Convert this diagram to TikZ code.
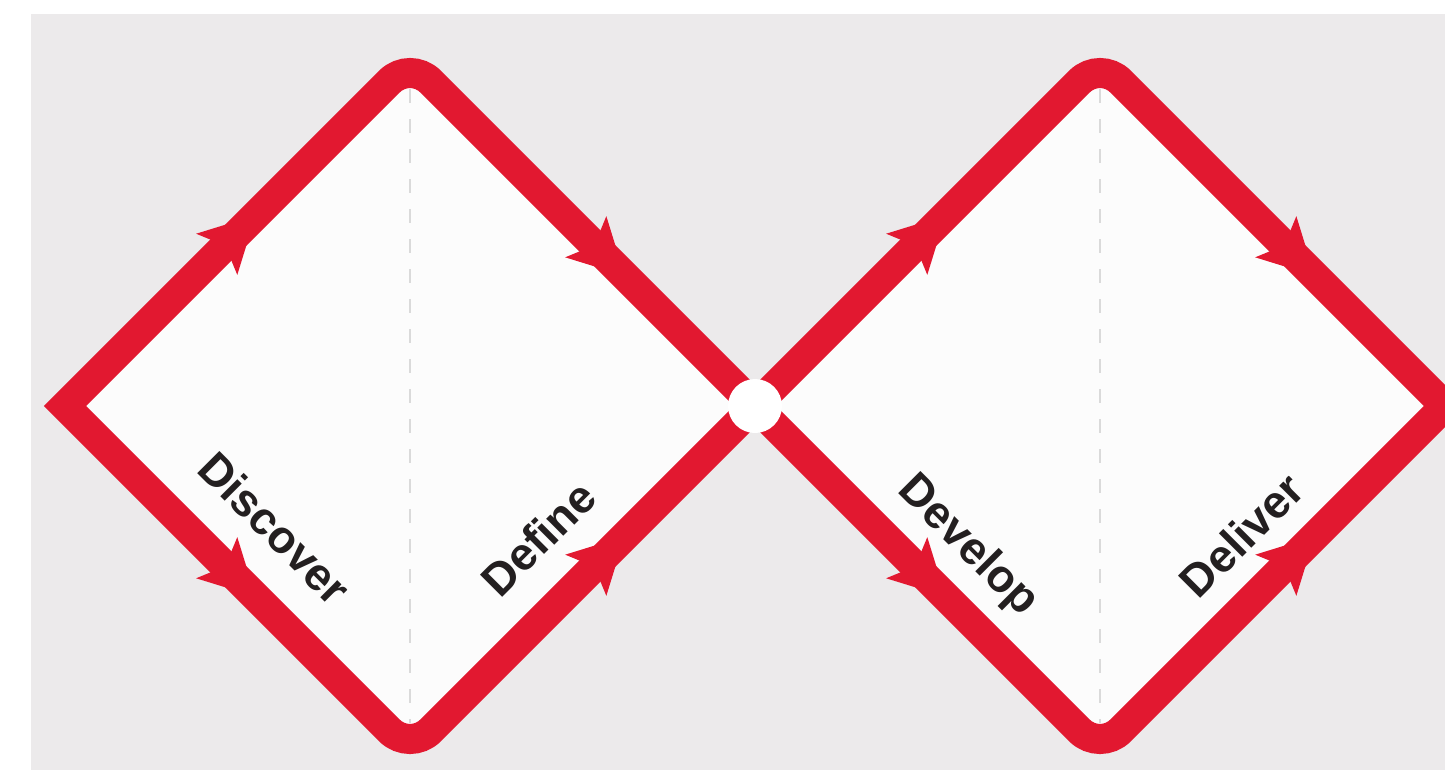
\documentclass[tikz,border=0pt]{standalone}
\usepackage{fontspec}
\setmainfont{Liberation Sans}
\usetikzlibrary{arrows.meta,calc,decorations.markings}
\definecolor{ddred}{RGB}{226,24,48}
\definecolor{ddback}{RGB}{236,234,235}
\definecolor{ddfill}{RGB}{252,252,252}
\definecolor{ddtext}{RGB}{35,31,32}
\definecolor{dddash}{RGB}{218,218,218}
\tikzset{
  outline/.style={draw=ddred, line width=3mm, line join=miter, fill=ddfill},
  midline/.style={draw=dddash, line width=0.6pt, dash pattern=on 1.4mm off 1.6mm},
  flow/.style={color=ddred, decoration={markings, mark=at position #1 with {\arrow{Stealth[length=5.5mm, width=5.8mm, inset=1.2mm]}}}, postaction={decorate}},
  phase/.style={font=\bfseries\fontsize{13}{15}\selectfont, text=ddtext, inner sep=0pt, text depth=0pt},
  hub/.style={circle, fill=white, minimum size=5.4mm, inner sep=0pt}
}

\begin{document}
\begin{tikzpicture}[x=0.1mm, y=-0.1mm]
  \useasboundingbox (0,0) rectangle (1445,770);
  \fill[ddback] (31,14) rectangle (1445,770);

  % corners of the two diamonds
  \coordinate (L1) at (65,406);
  \coordinate (T1) at (410,61);
  \coordinate (B1) at (410,751);
  \coordinate (C) at (755,406);
  \coordinate (T2) at (1100,61);
  \coordinate (B2) at (1100,751);
  \coordinate (R2) at (1445,406);

  % first diamond
  \path[outline] (L1) -- ($(T1)+(-20.5,20.5)$) arc[start angle=135, end angle=45, radius=2.9mm]
    -- (C) -- ($(B1)+(20.5,-20.5)$) arc[start angle=315, end angle=225, radius=2.9mm] -- cycle;
  % second diamond
  \path[outline] (C) -- ($(T2)+(-20.5,20.5)$) arc[start angle=135, end angle=45, radius=2.9mm]
    -- (R2) -- ($(B2)+(20.5,-20.5)$) arc[start angle=315, end angle=225, radius=2.9mm] -- cycle;

  \draw[midline] ($(T1)+(0,28)$) -- ($(B1)+(0,-28)$);
  \draw[midline] ($(T2)+(0,28)$) -- ($(B2)+(0,-28)$);

  \path[flow=0.555] (L1) -- (T1);
  \path[flow=0.555] (L1) -- (B1);
  \path[flow=0.625] (T1) -- (C);
  \path[flow=0.625] (B1) -- (C);
  \path[flow=0.555] (C) -- (T2);
  \path[flow=0.555] (C) -- (B2);
  \path[flow=0.625] (T2) -- (R2);
  \path[flow=0.625] (B2) -- (R2);

  \node[hub] (hub) at (C) {};

  \node[phase, rotate=-45] (discover) at (275,528) {Discover};
  \node[phase, rotate=45] (define) at (538,538) {Define};
  \node[phase, rotate=-45] (develop) at (971,543) {Develop};
  \node[phase, rotate=45] (deliver) at (1241,535) {Deliver};
\end{tikzpicture}
\end{document}
